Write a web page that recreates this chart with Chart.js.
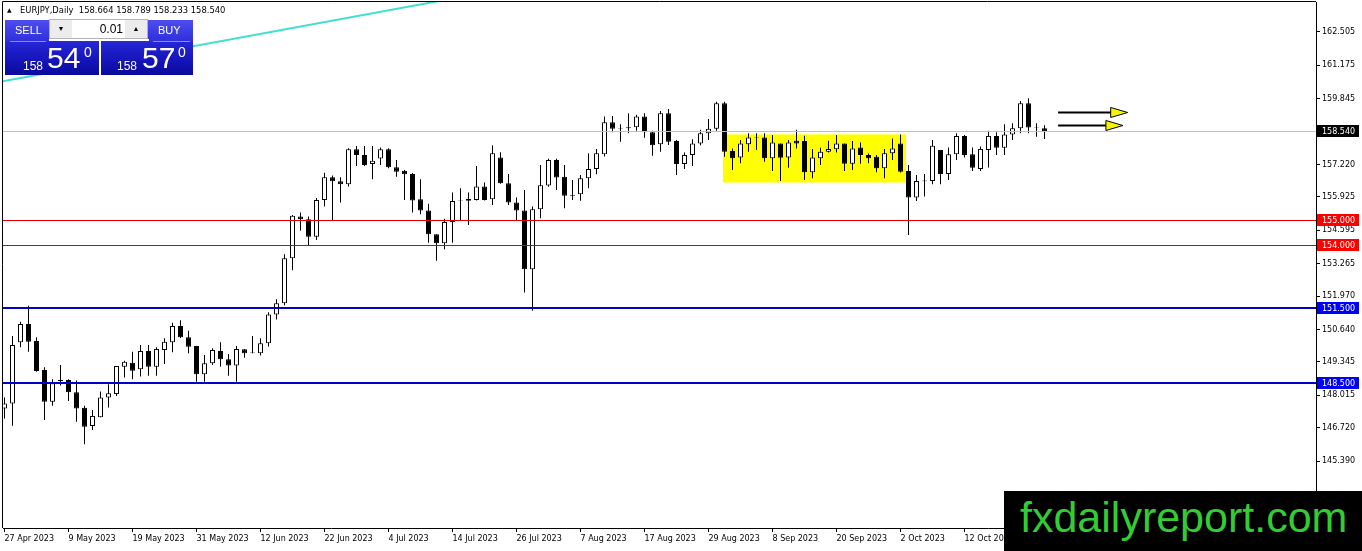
<!DOCTYPE html>
<html>
<head>
<meta charset="utf-8">
<script src="https://cdn.jsdelivr.net/npm/chart.js@4.4.0/dist/chart.umd.min.js"></script>
<style>
html, body { margin: 0; padding: 0; background: #fff; overflow: hidden; }
#wrap { position: relative; width: 1362px; height: 551px; }
#chart { position: absolute; left: 0; top: 0; }
.hdr { position: absolute; top: 5px; font: 8.4px "DejaVu Sans", sans-serif; color: #000; white-space: pre; line-height: 10px; }
.ui { position: absolute; font-family: "Liberation Sans", Arial, sans-serif; color: #fff; }
.col { position: absolute; top: 20px; height: 55px; background: linear-gradient(#4d4df0 0%, #3030dc 38%, #2626d6 40%, #1414b8 75%, #0a0a9c 100%); }
.sep { position: absolute; top: 41px; height: 1px; background: #8a8af5; }
.btxt { position: absolute; font-size: 11px; line-height: 13px; }
.spin { position: absolute; left: 49px; top: 19px; width: 99px; height: 20px; background: #fff; border: 1px solid #b4b4b4; box-sizing: border-box; }
.sbtn { position: absolute; top: 0; width: 22px; height: 18px; background: #ececec; color: #000; font-size: 7px; line-height: 18px; text-align: center; }
.sval { position: absolute; right: 24px; top: 0; font-size: 12px; line-height: 18px; color: #000; }
.sm { position: absolute; font-size: 12px; line-height: 12px; }
.big { position: absolute; font-size: 30px; line-height: 30px; }
.sup { position: absolute; font-size: 14px; line-height: 14px; }
#logo { position: absolute; left: 1004px; top: 491px; width: 358px; height: 60px; background: #000; }
#logo span { position: absolute; left: 16px; top: 5px; font: 43px/43px "Liberation Sans", Arial, sans-serif; color: #33cc33; white-space: nowrap; }
</style>
</head>
<body>
<div id="wrap">
  <canvas id="chart" width="1362" height="551"></canvas>

  <div class="hdr" style="left:7px;font-size:6px">▲</div>
  <div class="hdr" style="left:20px">EURJPY,Daily  158.664 158.789 158.233 158.540</div>

  <div class="ui col" style="left:5px;width:94px"></div>
  <div class="ui col" style="left:101px;width:92px"></div>
  <div class="ui sep" style="left:10px;width:36px"></div>
  <div class="ui sep" style="left:153px;width:37px"></div>
  <div class="ui" style="left:49px;top:39px;width:100px;height:2px;background:#fff"></div>
  <div class="ui" style="left:99px;top:39px;width:2px;height:37px;background:#fff"></div>
  <div class="ui btxt" style="left:15px;top:24px">SELL</div>
  <div class="ui btxt" style="left:158px;top:24px">BUY</div>
  <div class="ui spin">
    <div class="sbtn" style="left:0">▼</div>
    <div class="sval">0.01</div>
    <div class="sbtn" style="right:0">▲</div>
  </div>
  <div class="ui sm" style="left:23px;top:60px">158</div>
  <div class="ui big" style="left:47px;top:43px">54</div>
  <div class="ui sup" style="left:84px;top:45px">0</div>
  <div class="ui sm" style="left:117px;top:60px">158</div>
  <div class="ui big" style="left:142px;top:43px">57</div>
  <div class="ui sup" style="left:178px;top:45px">0</div>

  <div id="logo"><span>fxdailyreport.com</span></div>
</div>

<script>
// EURJPY daily, 27 Apr 2023 .. 26 Oct 2023 (bar index 1..131)
const opens = [
  147.49, 147.69, 150.13, 150.86, 150.18, 149.02, 147.76, 148.58, 148.62, 148.13,
  147.52, 146.79, 147.14, 147.93, 148.06, 149.15, 149.31, 149.05, 149.78, 149.15,
  149.82, 150.13, 150.78, 150.33, 149.98, 148.85, 149.29, 149.78, 149.45, 149.20,
  149.85, 149.69, 149.69, 150.09, 151.24, 151.68, 153.48, 155.14, 155.03, 154.34,
  155.80, 156.71, 156.55, 156.43, 157.83, 157.60, 157.24, 157.46, 157.83, 157.11,
  156.97, 156.84, 155.83, 155.38, 154.44, 154.08, 154.93, 155.78, 155.84, 155.80,
  156.34, 155.83, 157.50, 156.47, 155.70, 155.38, 153.04, 155.43, 156.38, 157.40,
  156.73, 155.97, 156.03, 156.67, 157.04, 157.63, 158.90, 158.64, 158.66, 158.70,
  159.13, 158.50, 158.03, 159.26, 158.16, 157.24, 157.60, 158.06, 158.46, 158.64,
  159.66, 157.76, 157.50, 158.03, 158.28, 158.30, 157.47, 158.06, 157.50, 158.17,
  158.16, 156.91, 157.47, 157.73, 157.83, 158.06, 157.25, 157.90, 157.60, 157.53,
  157.07, 157.67, 158.06, 156.96, 155.90, 156.55, 156.56, 157.80, 156.84, 157.63,
  158.36, 157.63, 157.04, 157.80, 158.36, 157.89, 158.42, 158.66, 159.66, 158.70,
  158.664
];
const highs = [
  147.93, 150.38, 150.95, 151.58, 150.33, 149.13, 148.65, 149.22, 148.65, 148.60,
  147.60, 147.43, 148.16, 148.45, 149.18, 149.39, 149.75, 150.02, 150.02, 149.93,
  150.29, 150.91, 151.01, 150.59, 149.98, 149.62, 149.89, 150.13, 149.66, 149.98,
  149.86, 150.38, 150.29, 151.33, 151.84, 153.64, 155.20, 155.30, 155.14, 155.88,
  156.89, 156.78, 156.71, 157.87, 157.96, 157.96, 157.96, 157.90, 157.87, 157.40,
  157.00, 156.88, 156.63, 155.65, 154.44, 155.05, 156.10, 156.27, 156.10, 157.16,
  156.50, 157.99, 157.71, 156.84, 155.90, 156.20, 155.54, 157.20, 157.45, 157.45,
  157.20, 156.60, 156.80, 157.67, 157.84, 159.13, 159.15, 158.82, 159.26, 159.20,
  159.26, 158.56, 159.35, 159.43, 158.20, 157.70, 158.23, 158.60, 159.03, 159.72,
  159.72, 157.86, 158.20, 158.46, 158.46, 158.46, 158.40, 158.06, 158.20, 158.60,
  158.37, 157.84, 157.89, 158.17, 158.40, 158.06, 158.16, 158.10, 157.66, 157.60,
  157.84, 158.26, 158.42, 157.20, 156.80, 156.84, 158.20, 157.80, 157.90, 158.46,
  158.40, 157.90, 157.94, 158.56, 158.50, 158.82, 158.86, 159.75, 159.86, 158.86,
  158.789
];
const lows = [
  147.09, 146.80, 149.93, 149.75, 148.95, 147.03, 147.60, 148.40, 147.79, 146.96,
  146.06, 146.63, 147.14, 147.53, 147.98, 148.72, 148.65, 148.76, 148.79, 148.79,
  149.26, 149.73, 150.30, 149.69, 148.55, 148.55, 149.22, 149.15, 148.79, 148.55,
  149.51, 149.69, 149.60, 149.96, 151.04, 151.60, 153.00, 154.58, 154.00, 154.21,
  155.54, 155.00, 155.70, 156.34, 157.16, 157.16, 156.63, 157.20, 157.07, 156.73,
  155.80, 155.30, 155.23, 154.10, 153.38, 153.84, 154.10, 155.00, 154.81, 155.78,
  155.78, 155.60, 156.45, 155.60, 155.00, 152.11, 151.39, 155.07, 156.33, 156.20,
  155.47, 155.80, 155.77, 156.27, 156.83, 157.54, 158.50, 158.13, 158.46, 158.56,
  158.29, 157.57, 157.73, 158.00, 156.80, 157.04, 157.16, 157.99, 158.20, 158.56,
  157.53, 157.00, 157.27, 157.73, 157.80, 157.33, 156.96, 156.56, 157.09, 157.86,
  156.60, 156.67, 157.20, 157.70, 157.70, 156.96, 157.00, 157.25, 157.27, 156.91,
  156.67, 157.40, 156.90, 154.41, 155.76, 155.94, 156.43, 156.43, 156.60, 157.40,
  157.50, 156.96, 156.96, 157.10, 157.60, 157.60, 158.20, 158.46, 158.46, 158.33,
  158.233
];
const closes = [
  147.69, 150.02, 150.86, 150.15, 148.98, 147.76, 148.49, 148.62, 148.13, 147.49,
  146.76, 147.19, 147.93, 148.09, 149.18, 149.35, 148.99, 149.78, 149.15, 149.86,
  150.15, 150.78, 150.33, 149.95, 148.85, 149.29, 149.82, 149.45, 149.20, 149.86,
  149.69, 149.72, 150.09, 151.24, 151.68, 153.48, 155.17, 155.03, 154.34, 155.80,
  156.71, 156.55, 156.43, 157.83, 157.60, 157.20, 157.37, 157.83, 157.11, 156.93,
  156.83, 155.78, 155.38, 154.44, 154.08, 154.93, 155.76, 155.80, 155.77, 156.34,
  155.80, 157.67, 156.47, 155.70, 155.38, 153.04, 155.43, 156.39, 157.40, 156.70,
  155.97, 156.00, 156.67, 157.04, 157.67, 158.90, 158.64, 158.66, 158.70, 159.13,
  158.50, 157.99, 159.26, 158.13, 157.24, 157.60, 158.06, 158.46, 158.64, 159.66,
  157.73, 157.47, 158.06, 158.30, 158.30, 157.47, 158.10, 157.49, 158.10, 158.06,
  156.91, 157.50, 157.73, 157.84, 158.06, 157.25, 157.86, 157.60, 157.47, 157.07,
  157.67, 157.86, 156.93, 155.90, 156.56, 156.58, 157.97, 156.84, 157.63, 158.36,
  157.60, 157.09, 157.84, 158.36, 157.89, 158.42, 158.66, 159.66, 158.69, 158.68,
  158.540
];

// x axis labels (bar index -> date)
const tickIdx = [1, 9, 17, 25, 33, 41, 49, 57, 65, 73, 81, 89, 97, 105, 113, 121, 129];
const tickLabels = ['27 Apr 2023', '9 May 2023', '19 May 2023', '31 May 2023', '12 Jun 2023',
  '22 Jun 2023', '4 Jul 2023', '14 Jul 2023', '26 Jul 2023', '7 Aug 2023', '17 Aug 2023',
  '29 Aug 2023', '8 Sep 2023', '20 Sep 2023', '2 Oct 2023', '12 Oct 2023', '24 Oct 2023'];

// price scale labels
const priceTicks = [162.505, 161.175, 159.845, 157.220, 155.925, 154.595, 153.265,
  151.970, 150.640, 149.345, 148.015, 146.720, 145.390];

// drawn objects
const bidPrice = 158.540;
const redLevels = [155.000, 154.000];
const blueLevels = [151.500, 148.500];
const zoneBars = [90.8, 113.7];
const zonePrices = [156.50, 158.42];
const trendX = [0.44, 57.9];
const trendY = [160.52, 163.89];
const arrowFrom = [132.7, 132.7];
const arrowTo = [141.4, 140.8];
const arrowPrice = [159.33, 158.78];

const bodies = opens.map((o, i) => ({ x: i + 1, y: [o, closes[i]] }));
const wicks = lows.map((l, i) => ({ x: i + 1, y: [l, highs[i]] }));
const bodyColors = opens.map((o, i) => closes[i] >= o ? '#ffffff' : '#000000');

const drawings = {
    id: 'drawings',
    beforeDatasetsDraw(chart) {
        const { ctx, scales: { x, y } } = chart;
        const x0 = x.getPixelForValue(zoneBars[0]);
        const x1 = x.getPixelForValue(zoneBars[1]);
        const y0 = y.getPixelForValue(zonePrices[1]);
        const y1 = y.getPixelForValue(zonePrices[0]);
        ctx.save();
        ctx.fillStyle = '#ffff00';
        ctx.fillRect(x0, y0, x1 - x0, y1 - y0);
        ctx.restore();
    },
    afterDatasetsDraw(chart) {
        const { ctx, chartArea: a, scales: { x, y } } = chart;
        ctx.save();
        // bid line
        let py = Math.round(y.getPixelForValue(bidPrice));
        ctx.fillStyle = '#c0c0c0';
        ctx.fillRect(a.left, py, a.right - a.left, 1);
        // red levels
        ctx.fillStyle = '#e00000';
        redLevels.forEach(v => {
            ctx.fillRect(a.left, Math.round(y.getPixelForValue(v)), a.right - a.left, 1);
        });
        // blue levels
        ctx.fillStyle = '#0000cc';
        blueLevels.forEach(v => {
            ctx.fillRect(a.left, Math.round(y.getPixelForValue(v)) - 1, a.right - a.left, 2);
        });
        // arrows
        arrowPrice.forEach((v, i) => {
            const ay = Math.round(y.getPixelForValue(v)) + 0.5;
            const xs = x.getPixelForValue(arrowFrom[i]);
            const xe = x.getPixelForValue(arrowTo[i]);
            const hx = xe - 17;
            ctx.strokeStyle = '#000';
            ctx.lineWidth = 2;
            ctx.beginPath();
            ctx.moveTo(xs, ay);
            ctx.lineTo(hx, ay);
            ctx.stroke();
            ctx.lineWidth = 1;
            ctx.fillStyle = '#f5f500';
            ctx.beginPath();
            ctx.moveTo(hx, ay - 5);
            ctx.lineTo(xe, ay);
            ctx.lineTo(hx, ay + 5);
            ctx.closePath();
            ctx.fill();
            ctx.stroke();
        });
        ctx.restore();
    },
    afterDraw(chart) {
        const { ctx, chartArea: a, scales: { y } } = chart;
        ctx.save();
        // frame
        ctx.strokeStyle = '#000';
        ctx.lineWidth = 1;
        ctx.beginPath();
        ctx.moveTo(a.left - 0.5, a.bottom);
        ctx.lineTo(a.left - 0.5, a.top - 0.5);
        ctx.lineTo(a.right, a.top - 0.5);
        ctx.stroke();
        // price tags
        const tags = [[bidPrice, '#000000']]
            .concat(redLevels.map(v => [v, '#ff0000']))
            .concat(blueLevels.map(v => [v, '#0000ff']));
        ctx.font = '8px "DejaVu Sans"';
        ctx.textBaseline = 'middle';
        tags.forEach(([v, c]) => {
            const py = Math.round(y.getPixelForValue(v));
            ctx.fillStyle = c;
            ctx.fillRect(a.right + 1, py - 6, 42, 12);
            ctx.fillStyle = '#fff';
            ctx.fillText(v.toFixed(3), a.right + 6, py + 0.5);
        });
        ctx.restore();
    }
};

Chart.defaults.font.family = '"DejaVu Sans", sans-serif';
Chart.defaults.font.size = 8;
Chart.defaults.color = '#000';

new Chart(document.getElementById('chart'), {
    type: 'bar',
    data: {
        datasets: [{
            label: 'body',
            data: bodies,
            backgroundColor: bodyColors,
            borderColor: '#000',
            borderWidth: 1,
            borderSkipped: false,
            barThickness: 5,
            grouped: false,
            inflateAmount: 0,
            order: 0
        }, {
            label: 'wick',
            data: wicks,
            backgroundColor: '#000',
            borderWidth: 0,
            barThickness: 1,
            grouped: false,
            inflateAmount: 0,
            order: 1
        }, {
            type: 'line',
            label: 'trend',
            data: trendX.map((v, i) => ({ x: v, y: trendY[i] })),
            borderColor: '#40e0d0',
            borderWidth: 2,
            pointRadius: 0,
            order: 2
        }]
    },
    options: {
        responsive: false,
        devicePixelRatio: 1,
        animation: false,
        layout: { padding: { left: 3, top: 2, right: 0, bottom: 0 } },
        plugins: { legend: { display: false }, tooltip: { enabled: false } },
        scales: {
            x: {
                type: 'linear',
                position: 'bottom',
                min: 0.8125,
                max: 164.9375,
                offset: false,
                grid: { display: true, drawOnChartArea: false, offset: false, tickLength: 4, color: '#000' },
                border: { display: true, color: '#000' },
                ticks: {
                    align: 'start',
                    autoSkip: false,
                    maxRotation: 0,
                    padding: 2,
                    callback: (v) => {
                        const k = tickIdx.indexOf(v);
                        return k >= 0 ? tickLabels[k] : '';
                    }
                },
                afterBuildTicks: (s) => { s.ticks = tickIdx.map(v => ({ value: v })); },
                afterFit: (s) => { s.height = 23; s.paddingLeft = 0; s.paddingRight = 0; }
            },
            y: {
                type: 'linear',
                position: 'right',
                min: 142.72,
                max: 163.70,
                beginAtZero: false,
                grid: { display: true, drawOnChartArea: false, tickLength: 4, color: '#000' },
                border: { display: true, color: '#000' },
                ticks: {
                    padding: 2,
                    callback: (v) => v.toFixed(3)
                },
                afterBuildTicks: (s) => { s.ticks = priceTicks.map(v => ({ value: v })); },
                afterFit: (s) => { s.width = 46; s.paddingTop = 0; s.paddingBottom = 0; }
            }
        }
    },
    plugins: [drawings]
});
</script>
</body>
</html>
